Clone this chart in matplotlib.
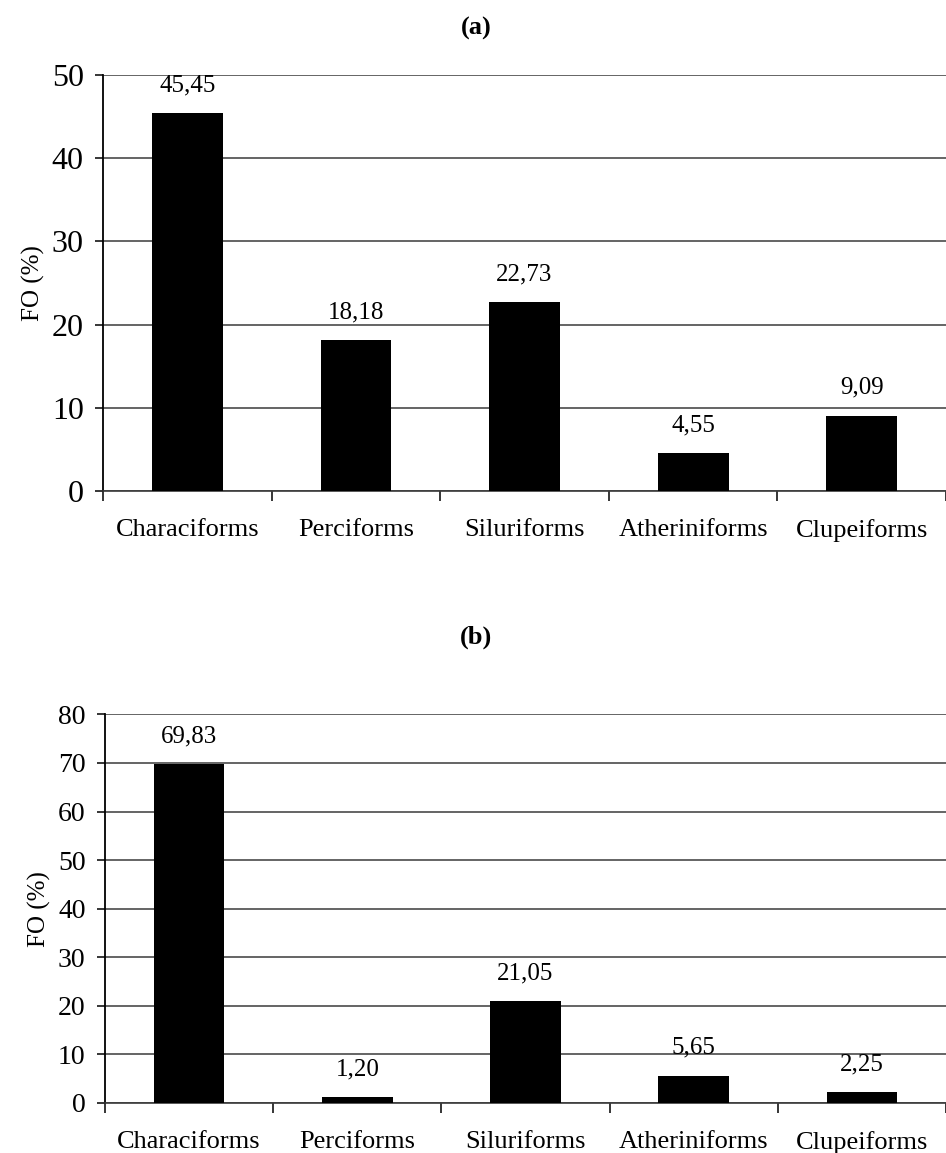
import numpy as np
import matplotlib
matplotlib.use('Agg')
import matplotlib.pyplot as plt

plt.rcParams['font.family'] = ['Liberation Serif', 'DejaVu Serif']

orders = ['Characiforms', 'Perciforms', 'Siluriforms', 'Atheriniforms', 'Clupeiforms']
fo_a = [45.45, 18.18, 22.73, 4.55, 9.09]
fo_b = [69.83, 1.20, 21.05, 5.65, 2.25]
labels_a = ['45,45', '18,18', '22,73', '4,55', '9,09']
labels_b = ['69,83', '1,20', '21,05', '5,65', '2,25']


def fo_panel(ax, vals, labs, ymax, tick_fs):
    x = np.arange(len(orders))
    ax.set_axisbelow(True)
    ax.yaxis.grid(True, color='#3a3a3a', lw=1.1)
    ax.bar(x, vals, width=0.42, color='black', zorder=3)
    for xi, v, t in zip(x, vals, labs):
        ax.annotate(t, (xi, v), xytext=(0, 12), textcoords='offset points',
                    ha='center', va='bottom', fontsize=18)
    ax.set_xlim(-0.5, len(orders) - 0.5)
    ax.set_ylim(0, ymax)
    ax.set_yticks(np.arange(0, ymax + 1, 10))
    ax.set_xticks(x)
    ax.set_xticklabels(orders, fontsize=19)
    ax.tick_params(axis='x', length=0, pad=20)
    ax.tick_params(axis='y', labelsize=tick_fs, length=6, width=1.1, pad=8)
    # tick marks between categories
    ax.set_xticks(np.arange(-0.5, len(orders), 1), minor=True)
    ax.tick_params(axis='x', which='minor', length=7, width=1.1, direction='out')
    for s in ['top', 'right']:
        ax.spines[s].set_visible(False)
    ax.spines['left'].set_linewidth(1.3)
    ax.spines['bottom'].set_color('#3a3a3a')
    ax.spines['bottom'].set_linewidth(1.2)
    ax.set_ylabel('FO (%)', fontsize=18, labelpad=5)


fig = plt.figure(figsize=(9.46, 11.53), dpi=100)
ax1 = fig.add_axes([0.109, 0.574, 0.891, 0.361])
ax2 = fig.add_axes([0.111, 0.0434, 0.889, 0.337])

fo_panel(ax1, fo_a, labels_a, 50, 23)
fo_panel(ax2, fo_b, labels_b, 80, 20)

fig.text(476 / 946, 1 - 28 / 1153, '(a)', ha='center', va='center',
         fontsize=19, fontweight='bold')
fig.text(476 / 946, 1 - 637 / 1153, '(b)', ha='center', va='center',
         fontsize=19, fontweight='bold')

fig.savefig('out.png', dpi=100)
